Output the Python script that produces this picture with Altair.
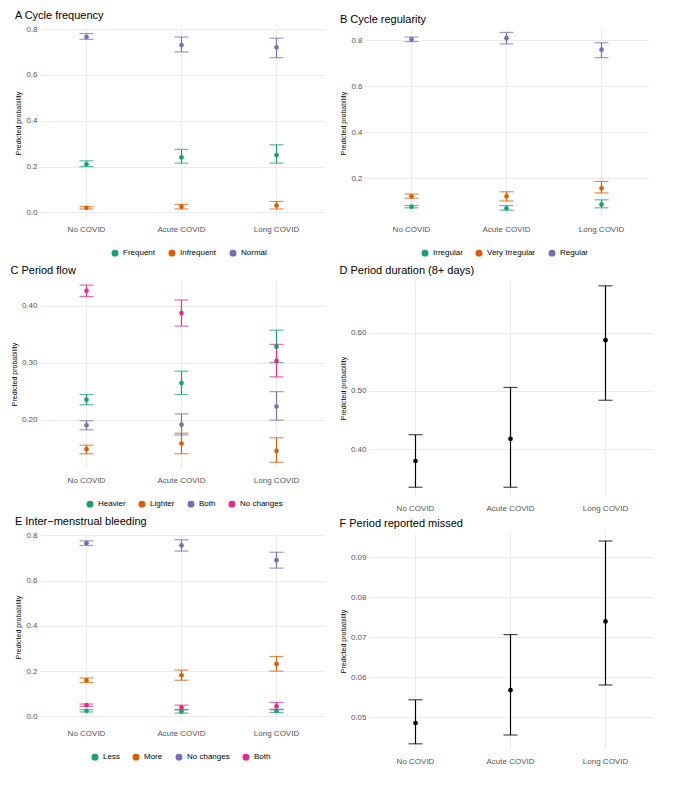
import altair as alt
import pandas as pd

groups = ["No COVID", "Acute COVID", "Long COVID"]
dark2 = ["#1B9E77", "#D95F02", "#7570B3", "#E7298A"]

# panel A
a_cats = ["Frequent", "Infrequent", "Normal"]
a_est = [[0.21, 0.24, 0.25], [0.02, 0.025, 0.03], [0.765, 0.73, 0.72]]
a_lo = [[0.20, 0.215, 0.215], [0.015, 0.015, 0.015], [0.755, 0.70, 0.675]]
a_hi = [[0.225, 0.275, 0.295], [0.025, 0.035, 0.048], [0.78, 0.765, 0.76]]
# panel B
b_cats = ["Irregular", "Very Irregular", "Regular"]
b_est = [[0.075, 0.068, 0.085], [0.12, 0.12, 0.155], [0.805, 0.81, 0.76]]
b_lo = [[0.07, 0.06, 0.07], [0.112, 0.10, 0.135], [0.795, 0.785, 0.725]]
b_hi = [[0.08, 0.08, 0.105], [0.13, 0.14, 0.185], [0.815, 0.835, 0.79]]
# panel C
c_cats = ["Heavier", "Lighter", "Both", "No changes"]
c_est = [[0.235, 0.264, 0.328], [0.148, 0.158, 0.145], [0.19, 0.191, 0.223], [0.426, 0.387, 0.303]]
c_lo = [[0.226, 0.244, 0.30], [0.14, 0.14, 0.125], [0.182, 0.173, 0.199], [0.416, 0.364, 0.275]]
c_hi = [[0.244, 0.285, 0.357], [0.155, 0.176, 0.168], [0.198, 0.21, 0.249], [0.436, 0.41, 0.332]]
# panel D
d_est = [0.38, 0.418, 0.587]
d_lo = [0.335, 0.335, 0.484]
d_hi = [0.425, 0.506, 0.68]
# panel E
e_cats = ["Less", "More", "No changes", "Both"]
e_est = [[0.025, 0.022, 0.025], [0.16, 0.182, 0.232], [0.765, 0.755, 0.69], [0.05, 0.04, 0.045]]
e_lo = [[0.02, 0.015, 0.018], [0.15, 0.16, 0.2], [0.755, 0.73, 0.655], [0.045, 0.03, 0.03]]
e_hi = [[0.03, 0.03, 0.032], [0.17, 0.205, 0.265], [0.775, 0.78, 0.725], [0.055, 0.05, 0.062]]
# panel F
f_est = [0.0485, 0.0567, 0.0739]
f_lo = [0.0433, 0.0455, 0.058]
f_hi = [0.0543, 0.0706, 0.094]

W, H = 285, 188


def xenc():
    return alt.X("group:N", sort=groups, title=None,
                 axis=alt.Axis(labelAngle=0, domain=False, ticks=False, labelPadding=8,
                               grid=True, bandPosition=0.5))


def yenc(domain, ticks):
    return alt.Y("lo:Q", title="Predicted probability",
                 scale=alt.Scale(domain=domain, nice=False, zero=False),
                 axis=alt.Axis(domain=False, ticks=False, titleFontSize=7,
                               titleFontWeight="normal", values=ticks))


def panel(title, cats, est, lo, hi, domain, ticks, legx):
    rows = []
    for ci, c in enumerate(cats):
        for gi, g in enumerate(groups):
            rows.append({"group": g, "cat": c, "est": est[ci][gi],
                         "lo": lo[ci][gi], "hi": hi[ci][gi]})
    df = pd.DataFrame(rows)
    color = alt.Color("cat:N", sort=cats, scale=alt.Scale(domain=cats, range=dark2[:len(cats)]),
                      title=None, legend=alt.Legend(orient="none", direction="horizontal",
                                                    legendX=legx, legendY=H + 30,
                                                    symbolType="circle", symbolSize=30,
                                                    symbolOpacity=1, labelFontSize=8))
    base = alt.Chart(df)
    bars = base.mark_errorbar(ticks=alt.TickConfig(size=14, thickness=1.2), thickness=1.2).encode(
        x=xenc(), y=yenc(domain, ticks), y2="hi:Q", color=color)
    pts = base.mark_point(filled=True, size=22, opacity=1).encode(
        x=xenc(), y="est:Q", color=color)
    return (bars + pts).properties(width=W, height=H, title=title)


def single(title, est, lo, hi, domain, ticks):
    df = pd.DataFrame({"group": groups, "est": est, "lo": lo, "hi": hi})
    bars = alt.Chart(df).mark_errorbar(ticks=alt.TickConfig(size=14, thickness=1.2),
                                       thickness=1.2, color="black").encode(
        x=xenc(), y=yenc(domain, ticks), y2="hi:Q")
    pts = alt.Chart(df).mark_point(filled=True, size=22, color="black", opacity=1).encode(
        x=xenc(), y="est:Q")
    return (bars + pts).properties(width=W, height=H + 28, title=title)


pa = panel("A   Cycle frequency", a_cats, a_est, a_lo, a_hi, [-0.02, 0.8],
           [0, 0.2, 0.4, 0.6, 0.8], 70)
pb = panel("B   Cycle regularity", b_cats, b_est, b_lo, b_hi, [0.03, 0.85],
           [0.2, 0.4, 0.6, 0.8], 55)
pc = panel("C   Period flow", c_cats, c_est, c_lo, c_hi, [0.115, 0.445],
           [0.2, 0.3, 0.4], 45)
pd_ = single("D   Period duration (8+ days)", d_est, d_lo, d_hi, [0.32, 0.69],
             [0.4, 0.5, 0.6])
pe = panel("E   Inter\u2212menstrual bleeding", e_cats, e_est, e_lo, e_hi, [-0.02, 0.81],
           [0, 0.2, 0.4, 0.6, 0.8], 50)
pf = single("F   Period reported missed", f_est, f_lo, f_hi, [0.042, 0.096],
            [0.05, 0.06, 0.07, 0.08, 0.09])

chart = alt.vconcat(
    alt.hconcat(pa, pb, spacing=15).resolve_scale(color="independent"),
    alt.hconcat(pc, pd_, spacing=15).resolve_scale(color="independent"),
    alt.hconcat(pe, pf, spacing=15).resolve_scale(color="independent"),
    spacing=4,
).resolve_scale(color="independent").configure_view(stroke=None).configure_axis(
    labelFontSize=8, labelColor="#555", gridColor="#ebebeb", labelFont="Liberation Sans",
    titleFont="Liberation Sans"
).configure_title(
    anchor="start", fontSize=11, fontWeight="normal", font="Liberation Sans", offset=4
).configure_legend(labelFont="Liberation Sans", padding=2).properties(padding=2)

chart.save("out.html", embed_options={"renderer": "svg", "actions": False})
